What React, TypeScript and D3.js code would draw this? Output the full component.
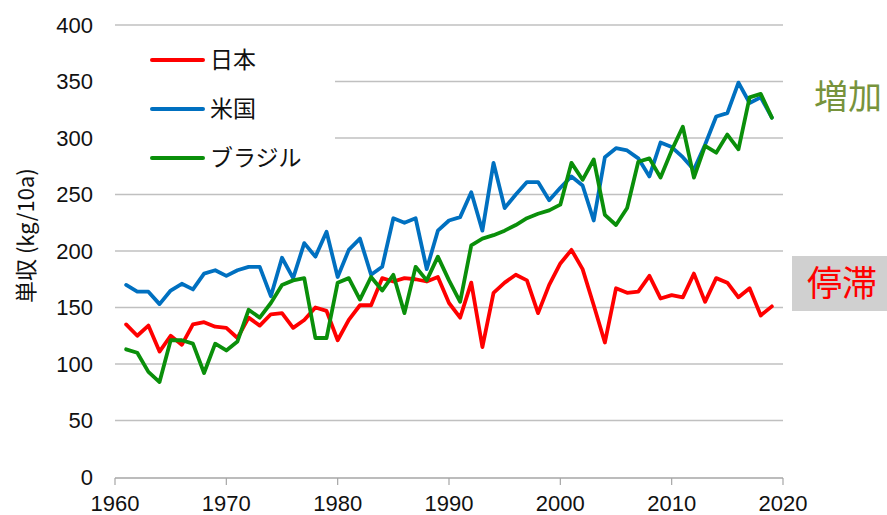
import React from 'react';
import * as d3 from 'd3';

const W = 887;
const H = 515;
const MARGIN = { top: 25, right: 104, bottom: 38, left: 115 };

const years = d3.range(1961, 2020);

// kg/10a
const japan = [
  135, 125, 134, 111, 125, 117, 135, 137, 133, 132,
  123, 141, 134, 144, 145, 132, 139, 150, 147, 121,
  139, 152, 152, 176, 173, 176, 175, 173, 177, 154,
  141, 172, 115, 163, 172, 179, 174, 145, 170, 189,
  201, 184, 152, 119, 167, 163, 164, 178, 158, 161,
  159, 180, 155, 176, 172, 159, 167, 143, 151,
];
const usa = [
  170, 164, 164, 153, 165, 171, 166, 180, 183, 178,
  183, 186, 186, 160, 194, 176, 207, 195, 217, 177,
  201, 211, 179, 186, 229, 225, 229, 184, 218, 227,
  230, 252, 218, 278, 238, 250, 261, 261, 245, 256,
  266, 258, 227, 283, 291, 289, 282, 266, 296, 292,
  283, 272, 294, 319, 322, 349, 331, 336, 318,
];
const brazil = [
  113, 110, 93, 84, 121, 121, 118, 92, 118, 112,
  120, 148, 141, 154, 170, 174, 176, 123, 123, 172,
  176, 157, 177, 165, 179, 145, 186, 174, 195, 174,
  155, 205, 211, 214, 218, 223, 229, 233, 236, 241,
  278, 263, 281, 232, 223, 238, 279, 282, 265, 289,
  310, 265, 293, 287, 303, 290, 336, 339, 318,
];

const yTicks = [0, 50, 100, 150, 200, 250, 300, 350, 400];
const xTicks = [1960, 1970, 1980, 1990, 2000, 2010, 2020];

const seriesList = [
  { name: '日本', values: japan, color: '#ff0000' },
  { name: '米国', values: usa, color: '#0070c0' },
  { name: 'ブラジル', values: brazil, color: '#0a8f0a' },
];
// drawing order: blue under, then red, green on top
const drawOrder = [1, 0, 2];

const NUM_FONT = '"Liberation Sans", Arial, sans-serif';
const JP_FONT = '"Noto Sans CJK JP", "Noto Sans", sans-serif';

const App: React.FC = () => {
  const x = d3.scaleLinear().domain([1960, 2020]).range([MARGIN.left, W - MARGIN.right]);
  const y = d3.scaleLinear().domain([0, 400]).range([H - MARGIN.bottom, MARGIN.top]);

  const line = d3.line<[number, number]>()
    .x(d => x(d[0]))
    .y(d => y(d[1]));

  const x0 = x(1960);
  const x1 = x(2020);
  const yBase = y(0);

  return (
    <svg width={W} height={H} style={{ position: 'absolute', left: 0, top: 0, background: '#fff' }}>
      {/* grid */}
      {yTicks.filter(t => t > 0).map(t => (
        <line key={t} x1={x0} x2={x1} y1={y(t)} y2={y(t)} stroke="#c0c0c0" strokeWidth={1.5} />
      ))}
      {/* y labels */}
      {yTicks.map(t => (
        <text key={t} x={x0 - 22} y={y(t)} dy="0.36em" textAnchor="end"
          fontFamily={NUM_FONT} fontSize={22} fill="#111">{t}</text>
      ))}
      {/* x axis */}
      <line x1={x0} x2={x1} y1={yBase + 1} y2={yBase + 1} stroke="#a6a6a6" strokeWidth={1.5} />
      {xTicks.map(t => (
        <g key={t}>
          <line x1={x(t)} x2={x(t)} y1={yBase + 1} y2={yBase + 8} stroke="#a6a6a6" strokeWidth={1.2} />
          <text x={x(t)} y={yBase + 34} textAnchor="middle" fontFamily={NUM_FONT} fontSize={22} fill="#111">{t}</text>
        </g>
      ))}
      {/* y title */}
      <text transform={`translate(34,303) rotate(-90)`} textAnchor="start"
        fontFamily={JP_FONT} fontSize={22} fill="#111">単収 (kg/10a)</text>

      {/* legend box hides the grid behind it */}
      <rect x={x0} y={40} width={220} height={140} fill="#fff" />
      {seriesList.map((s, i) => (
        <g key={s.name} transform={`translate(152,${60 + i * 49})`}>
          <line x1={0} x2={51} y1={0} y2={0} stroke={s.color} strokeWidth={4} strokeLinecap="round" />
          <text x={58} y={0} dy="0.36em" fontFamily={JP_FONT} fontSize={23} fill="#111">{s.name}</text>
        </g>
      ))}

      {/* series */}
      {drawOrder.map(i => {
        const s = seriesList[i];
        const pts = years.map((yr, j) => [yr, s.values[j]] as [number, number]);
        return (
          <path key={s.name} d={line(pts) || ''} fill="none" stroke={s.color}
            strokeWidth={3.8} strokeLinejoin="round" strokeLinecap="round" />
        );
      })}

      {/* annotations */}
      <text x={848} y={97} dy="0.36em" textAnchor="middle" fontFamily={JP_FONT} fontSize={34} fill="#77933c">増加</text>
      <rect x={792} y={256} width={95} height={55} fill="#d0d0d0" />
      <text x={842} y={283} dy="0.36em" textAnchor="middle" fontFamily={JP_FONT} fontSize={35} fill="#ff0000">停滞</text>
    </svg>
  );
};

export default App;
